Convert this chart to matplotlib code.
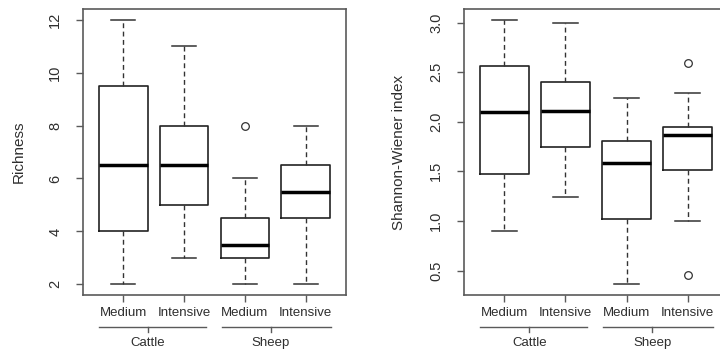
import matplotlib
matplotlib.use("Agg")
import matplotlib.pyplot as plt
import matplotlib.transforms as mtransforms

plt.rcParams['font.family'] = ['Liberation Sans', 'DejaVu Sans']

categories = ["Medium", "Intensive", "Medium", "Intensive"]
groups = ["Cattle", "Sheep"]

# Richness: (whislo, q1, median, q3, whishi), outliers
rich_whislo = [2, 3, 2, 2]
rich_q1 = [4, 5, 3, 4.5]
rich_med = [6.5, 6.5, 3.5, 5.5]
rich_q3 = [9.5, 8, 4.5, 6.5]
rich_whishi = [12, 11, 6, 8]
rich_fliers = [[], [], [8], []]
rich_ticks = [2, 4, 6, 8, 10, 12]
rich_tick_labels = ["2", "4", "6", "8", "10", "12"]

# Shannon-Wiener index
sw_whislo = [0.90, 1.24, 0.36, 1.00]
sw_q1 = [1.47, 1.75, 1.02, 1.51]
sw_med = [2.10, 2.11, 1.58, 1.865]
sw_q3 = [2.56, 2.40, 1.81, 1.945]
sw_whishi = [3.03, 3.00, 2.24, 2.285]
sw_fliers = [[], [], [], [2.59, 0.45]]
sw_ticks = [0.5, 1.0, 1.5, 2.0, 2.5, 3.0]
sw_tick_labels = ["0.5", "1.0", "1.5", "2.0", "2.5", "3.0"]

W, H = 720, 351
fig = plt.figure(figsize=(W / 100, H / 100), dpi=100)

spine_col = "#5a5a5a"
text_col = "#2e2e2e"


def panel(rect, whislo, q1, med, q3, whishi, fliers, ticks, tlabels, ylabel, ylabel_x):
    ax = fig.add_axes(rect)
    stats = []
    for i in range(len(categories)):
        stats.append(dict(whislo=whislo[i], q1=q1[i], med=med[i], q3=q3[i],
                          whishi=whishi[i], fliers=fliers[i], label=categories[i]))
    pos = [1, 2, 3, 4]
    ax.bxp(stats, positions=pos, widths=0.8, showfliers=True,
           boxprops=dict(color="#222222", linewidth=1.2),
           medianprops=dict(color="black", linewidth=2.5, solid_capstyle="butt"),
           whiskerprops=dict(color="#333333", linewidth=1.0, linestyle=(0, (3.5, 2.5))),
           capprops=dict(color="#333333", linewidth=1.1),
           flierprops=dict(marker="o", markersize=5.5, markerfacecolor="white",
                           markeredgecolor="#333333", markeredgewidth=0.9),
           capwidths=0.4)
    lo = min(whislo + [f for fl in fliers for f in fl])
    hi = max(whishi + [f for fl in fliers for f in fl])
    r = hi - lo
    ax.set_ylim(lo - 0.04 * r, hi + 0.04 * r)
    ax.set_xlim(0.34, 4.66)
    ax.set_yticks(ticks)
    ax.set_yticklabels(tlabels, rotation=90, va="center", fontsize=10.5, color=text_col)
    ax.set_xticks(pos)
    ax.set_xticklabels(categories, fontsize=9.5, color=text_col)
    ax.tick_params(axis="both", length=5, width=1.0, color=spine_col)
    ax.tick_params(axis="y", pad=10)
    ax.tick_params(axis="x", pad=3.5)
    for s in ax.spines.values():
        s.set_color(spine_col)
        s.set_linewidth(1.2)
    fig.text(ylabel_x, rect[1] + rect[3] / 2, ylabel, rotation=90, va="center",
             ha="center", fontsize=11, color=text_col)
    trans = mtransforms.blended_transform_factory(ax.transData, ax.transAxes)
    spans = [(0.6, 2.36, 1.41), (2.62, 4.42, 3.42)]
    for (a, b, c), g in zip(spans, groups):
        ax.plot([a, b], [-0.111, -0.111], color=spine_col, lw=1.0, transform=trans, clip_on=False)
        ax.plot([c, c], [-0.111, -0.128], color=spine_col, lw=1.0, transform=trans, clip_on=False)
        ax.text(c, -0.168, g, transform=trans, ha="center", va="center", fontsize=9.5,
                color=text_col)
    return ax


bottom = 1 - 295 / H
height = (295 - 9) / H
panel([83 / W, bottom, 263 / W, height], rich_whislo, rich_q1, rich_med, rich_q3,
      rich_whishi, rich_fliers, rich_ticks, rich_tick_labels, "Richness", 19 / W)
panel([464 / W, bottom, 264 / W, height], sw_whislo, sw_q1, sw_med, sw_q3,
      sw_whishi, sw_fliers, sw_ticks, sw_tick_labels, "Shannon-Wiener index", 399 / W)

fig.savefig("out.png", dpi=100, facecolor="white")
